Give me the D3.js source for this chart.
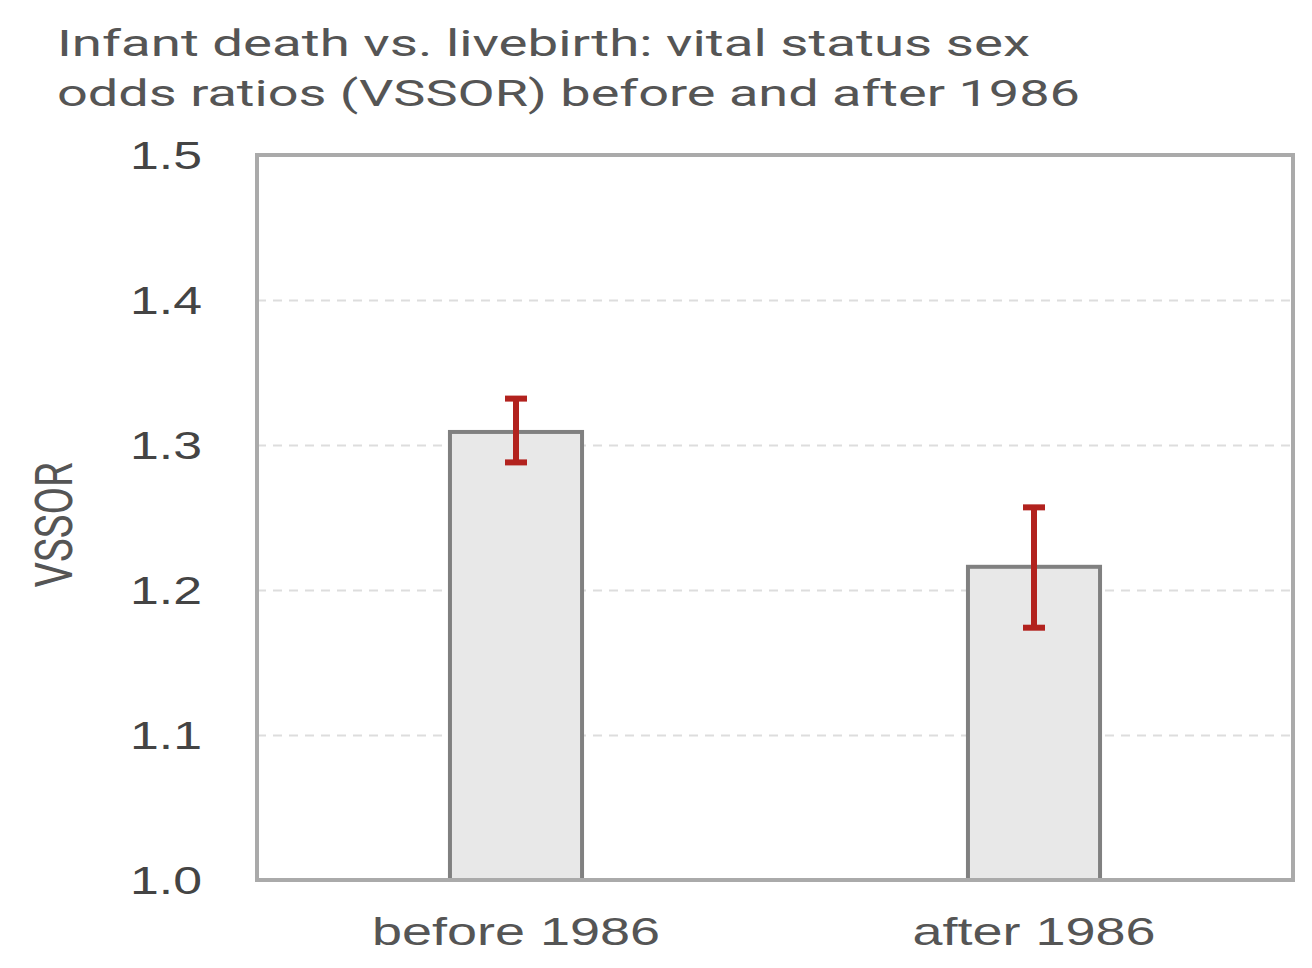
<!DOCTYPE html>
<html>
<head>
<meta charset="utf-8">
<script src="https://cdn.jsdelivr.net/npm/d3@7"></script>
<style>
  body { margin: 0; background: #fff; }
</style>
</head>
<body>
<div id="viz"></div>
<script>
var periods = ["before 1986", "after 1986"];
var vssor = [1.309, 1.216];
var ciLow = [1.288, 1.174];
var ciHigh = [1.332, 1.257];
var yTicks = [1.0, 1.1, 1.2, 1.3, 1.4, 1.5];
var titleLines = ["Infant death vs. livebirth: vital status sex",
                  "odds ratios (VSSOR) before and after 1986"];

var W = 1312, H = 968;
var plotLeft = 257, plotRight = 1293, plotTop = 155, plotBottom = 880;
var frame_colour = "#aaaaaa";
var text_colour = "#555555";

var svg = d3.select("#viz")
  .append("svg")
  .attr("width", W)
  .attr("height", H);

var y = d3.scaleLinear().domain([1.0, 1.5]).range([plotBottom, plotTop]);
var x = d3.scalePoint().domain(periods).range([plotLeft, plotRight]).padding(0.5);
var barWidth = x.step() * 0.255;

// title, stretched wide like the picture
var titleWidths = [973, 1023];
svg.selectAll(".title")
  .data(titleLines)
  .enter().append("text")
  .attr("class", "title")
  .attr("x", 57)
  .attr("y", function(d, i) { return 56 + i * 50; })
  .attr("textLength", function(d, i) { return titleWidths[i]; })
  .attr("lengthAdjust", "spacingAndGlyphs")
  .attr("font-family", "Roboto, sans-serif")
  .attr("font-size", 37)
  .attr("fill", text_colour)
  .text(function(d) { return d; });

// dashed grid
svg.append("g")
  .attr("transform", "translate(" + plotLeft + ",0)")
  .call(d3.axisLeft(y).tickValues(yTicks.slice(1, -1)).tickSize(-(plotRight - plotLeft)).tickFormat(""))
  .call(function(g) { g.select(".domain").remove(); })
  .selectAll("line")
  .attr("stroke", "#dddddd")
  .attr("stroke-width", 2)
  .attr("stroke-dasharray", "9,7");

// y tick labels
var yAxis = svg.append("g")
  .attr("transform", "translate(" + plotLeft + ",0)")
  .call(d3.axisLeft(y).tickValues(yTicks).tickSize(0).tickPadding(55).tickFormat(d3.format(".1f")));
yAxis.select(".domain").remove();
yAxis.selectAll("text")
  .attr("font-family", "'Liberation Sans', Arial, sans-serif")
  .attr("font-size", 38)
  .attr("fill", "#444444")
  .attr("dy", "0.36em")
  .attr("textLength", 72)
  .attr("lengthAdjust", "spacingAndGlyphs");

// bars
svg.selectAll(".bar")
  .data(periods)
  .enter().append("rect")
  .attr("class", "bar")
  .attr("x", function(d) { return x(d) - barWidth / 2; })
  .attr("y", function(d, i) { return y(vssor[i]); })
  .attr("width", barWidth)
  .attr("height", function(d, i) { return y(1.0) - y(vssor[i]); })
  .attr("fill", "#e8e8e8")
  .attr("stroke", "#808080")
  .attr("stroke-width", 4);

// error bars
var err = svg.selectAll(".err")
  .data(periods)
  .enter().append("g")
  .attr("class", "err")
  .attr("stroke", "#b2221e")
  .attr("stroke-width", 6);
err.append("line")
  .attr("x1", function(d) { return x(d); })
  .attr("x2", function(d) { return x(d); })
  .attr("y1", function(d, i) { return y(ciLow[i]); })
  .attr("y2", function(d, i) { return y(ciHigh[i]); });
err.append("line")
  .attr("x1", function(d) { return x(d) - 11; })
  .attr("x2", function(d) { return x(d) + 11; })
  .attr("y1", function(d, i) { return y(ciHigh[i]); })
  .attr("y2", function(d, i) { return y(ciHigh[i]); });
err.append("line")
  .attr("x1", function(d) { return x(d) - 11; })
  .attr("x2", function(d) { return x(d) + 11; })
  .attr("y1", function(d, i) { return y(ciLow[i]); })
  .attr("y2", function(d, i) { return y(ciLow[i]); });

// frame
svg.append("rect")
  .attr("x", plotLeft)
  .attr("y", plotTop)
  .attr("width", plotRight - plotLeft)
  .attr("height", plotBottom - plotTop)
  .attr("fill", "none")
  .attr("stroke", frame_colour)
  .attr("stroke-width", 4);

// x labels
var xLabelWidths = [288, 243];
svg.selectAll(".xlab")
  .data(periods)
  .enter().append("text")
  .attr("class", "xlab")
  .attr("x", function(d) { return x(d); })
  .attr("y", 945)
  .attr("text-anchor", "middle")
  .attr("textLength", function(d, i) { return xLabelWidths[i]; })
  .attr("lengthAdjust", "spacingAndGlyphs")
  .attr("font-family", "'Liberation Sans', Arial, sans-serif")
  .attr("font-size", 39)
  .attr("fill", text_colour)
  .text(function(d) { return d; });

// y axis title
svg.append("text")
  .attr("transform", "translate(72,525) scale(1.4,1) rotate(-90)")
  .attr("text-anchor", "middle")
  .attr("textLength", 125)
  .attr("lengthAdjust", "spacingAndGlyphs")
  .attr("font-family", "Roboto, sans-serif")
  .attr("font-size", 37)
  .attr("fill", text_colour)
  .text("VSSOR");
</script>
</body>
</html>
